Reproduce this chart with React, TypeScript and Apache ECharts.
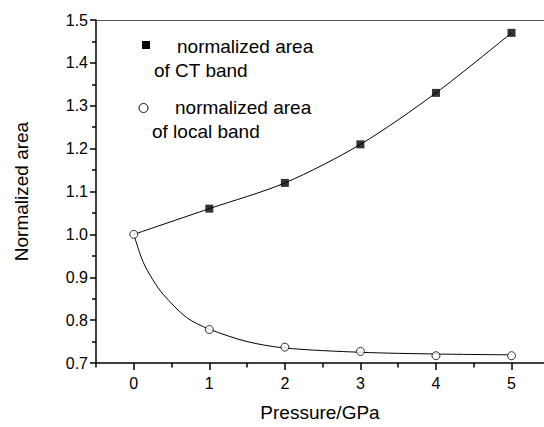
import React, { useEffect, useRef } from "react";
import * as echarts from "echarts";

const pressure = [0, 1, 2, 3, 4, 5];
const ctArea = [1.0, 1.06, 1.12, 1.21, 1.33, 1.47];
const localArea = [1.0, 0.778, 0.737, 0.727, 0.717, 0.717];
const localFitX = [0, 0.12, 0.25, 0.39, 0.7, 1, 1.5, 2, 3, 4, 5];
const localFitY = [1.0, 0.937, 0.895, 0.86, 0.806, 0.779, 0.75, 0.735, 0.725, 0.721, 0.719];
const xMajorTicks = [0, 1, 2, 3, 4, 5];
const xMinorTicks = [-0.5, 0.5, 1.5, 2.5, 3.5, 4.5, 5.5];
const legendLines = ["normalized area", "of CT band", "normalized area", "of local band"];

const FONT = '"Liberation Sans", Arial, Helvetica, sans-serif';

export default function App() {
  const ref = useRef<HTMLDivElement>(null);
  useEffect(() => {
    if (!ref.current) return;
    const chart = echarts.init(ref.current, undefined, { renderer: "svg" });
    const xMin = -0.5;
    const xMax = 5.43;
    chart.setOption({
      animation: false,
      backgroundColor: "#fff",
      textStyle: { fontFamily: FONT, color: "#000" },
      grid: { left: 96, right: 0, top: 20, bottom: 61, containLabel: false },
      xAxis: [
        {
          type: "value",
          position: "bottom",
          min: xMin,
          max: xMax,
          axisLine: { show: true, onZero: false, lineStyle: { color: "#000", width: 1.5 } },
          axisTick: { show: true, inside: false, length: 7, customValues: xMajorTicks, lineStyle: { color: "#000", width: 1.5 } },
          axisLabel: {
            customValues: xMajorTicks,
            formatter: (v: number) => String(v),
            margin: 12,
            fontSize: 16,
            color: "#000",
            fontFamily: FONT,
          },
          splitLine: { show: false },
          name: "Pressure/GPa",
          nameLocation: "middle",
          nameGap: 40,
          nameTextStyle: { fontSize: 19, color: "#000", fontFamily: FONT },
        },
        {
          type: "value",
          position: "bottom",
          min: xMin,
          max: xMax,
          axisLine: { show: false, onZero: false },
          axisTick: { show: true, inside: false, length: 4.5, customValues: xMinorTicks, lineStyle: { color: "#000", width: 1.5 } },
          axisLabel: { show: false },
          splitLine: { show: false },
        },
        {
          type: "value",
          position: "top",
          min: xMin,
          max: xMax,
          axisLine: { show: true, onZero: false, lineStyle: { color: "#555", width: 1 } },
          axisTick: { show: false },
          axisLabel: { show: false },
          splitLine: { show: false },
        },
      ],
      yAxis: {
        type: "value",
        min: 0.7,
        max: 1.5,
        interval: 0.1,
        axisLine: { show: true, onZero: false, lineStyle: { color: "#000", width: 1.5 } },
        axisTick: { show: true, inside: false, length: 6, lineStyle: { color: "#000", width: 1.5 } },
        minorTick: { show: true, splitNumber: 2, length: 4, lineStyle: { color: "#000", width: 1.5 } },
        axisLabel: {
          formatter: (v: number) => v.toFixed(1),
          margin: 8,
          fontSize: 16,
          color: "#000",
          fontFamily: FONT,
        },
        splitLine: { show: false },
        name: "Normalized area",
        nameLocation: "middle",
        nameGap: 65,
        nameTextStyle: { fontSize: 19, color: "#000", fontFamily: FONT },
      },
      series: [
        {
          type: "line",
          data: pressure.map((p, i) => [p, ctArea[i]]),
          smooth: 0.3,
          showSymbol: false,
          lineStyle: { color: "#000", width: 1 },
          z: 2,
        },
        {
          type: "line",
          data: localFitX.map((p, i) => [p, localFitY[i]]),
          smooth: 0.3,
          showSymbol: false,
          lineStyle: { color: "#000", width: 1 },
          z: 2,
        },
        {
          type: "scatter",
          data: pressure.map((p, i) => [p, ctArea[i]]).filter((d) => d[0] > 0),
          symbol: "rect",
          symbolSize: 8,
          itemStyle: { color: "#000" },
          z: 3,
        },
        {
          type: "scatter",
          data: pressure.map((p, i) => [p, localArea[i]]),
          symbol: "circle",
          symbolSize: 8,
          itemStyle: { color: "#fff", borderColor: "#000", borderWidth: 1 },
          z: 4,
        },
      ],
      graphic: [
        { type: "rect", shape: { x: 142, y: 41, width: 8, height: 8 }, style: { fill: "#000" } },
        { type: "text", x: 177, y: 46, style: { text: legendLines[0], fontSize: 19, fontFamily: FONT, fill: "#000", verticalAlign: "middle" } },
        { type: "text", x: 154, y: 70, style: { text: legendLines[1], fontSize: 19, fontFamily: FONT, fill: "#000", verticalAlign: "middle" } },
        { type: "circle", shape: { cx: 143.5, cy: 108, r: 4.5 }, style: { fill: "#fff", stroke: "#000", lineWidth: 1 } },
        { type: "text", x: 175, y: 107, style: { text: legendLines[2], fontSize: 19, fontFamily: FONT, fill: "#000", verticalAlign: "middle" } },
        { type: "text", x: 152, y: 131, style: { text: legendLines[3], fontSize: 19, fontFamily: FONT, fill: "#000", verticalAlign: "middle" } },
      ],
    });
    return () => chart.dispose();
  }, []);
  return (
    <div
      ref={ref}
      style={{ position: "fixed", left: 0, top: 0, width: 544, height: 427, background: "#fff" }}
    />
  );
}
